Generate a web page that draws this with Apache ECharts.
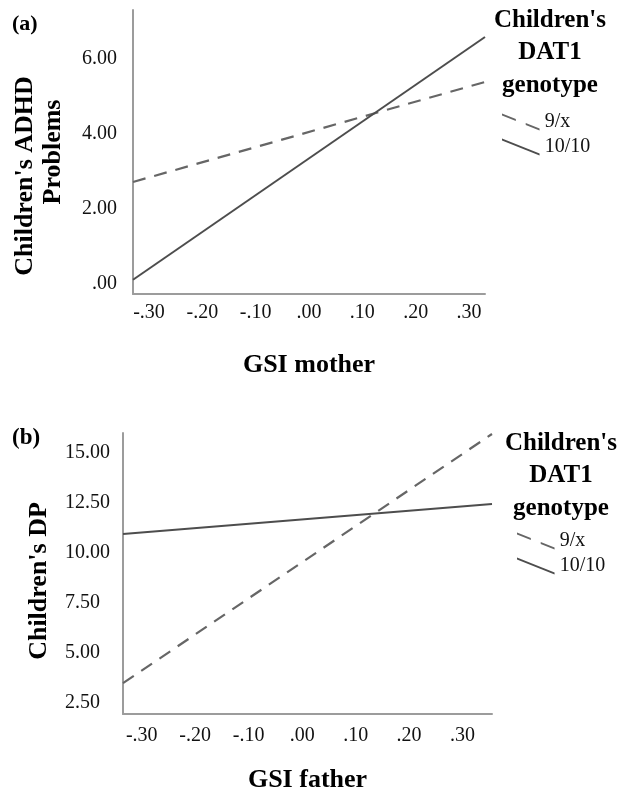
<!DOCTYPE html>
<html>
<head>
<meta charset="utf-8">
<script src="https://cdn.jsdelivr.net/npm/echarts@6/dist/echarts.min.js"></script>
<style>html,body{margin:0;padding:0;background:#fff}#c{width:624px;height:794px}</style>
</head>
<body>
<div id="c"></div>
<script>
// ---- data ----
const genotypes = ['9/x', '10/10'];
const xTicks = [-0.3, -0.2, -0.1, 0, 0.1, 0.2, 0.3];
const yTicksA = [0, 2, 4, 6];
const yTicksB = [2.5, 5, 7.5, 10, 12.5, 15];
// panel (a): GSI mother -> Children's ADHD Problems
const gsiMother = [-0.33, 0.33];
const adhd9x = [2.72, 5.39];
const adhd1010 = [0.11, 6.59];
// panel (b): GSI father -> Children's DP
const gsiFather = [-0.335, 0.355];
const dp9x = [3.49, 15.95];
const dp1010 = [10.95, 12.45];

const FONT = "'Liberation Serif', 'Times New Roman', serif";
const AXIS_COLOR = '#9c9c9c';
const fmt = v => v.toFixed(2).replace(/^(-?)0\./, '$1.');
const zip = (xs, ys) => xs.map((x, i) => [x, ys[i]]);

const dashIcon = 'path://M0,0L14,5.6L14,7.6L0,2Z M24,9.6L38,15.2L38,17.2L24,11.6Z';
const solidIcon = 'path://M0,0L38,15.2L38,17.2L0,2Z';

const chart = echarts.init(document.getElementById('c'), null, {renderer: 'canvas'});

function xAxisCfg(idx, name, min, max, margin, gap) {
  return {
    type: 'value', gridIndex: idx, min: min, max: max,
    name: name, nameLocation: 'middle', nameGap: gap,
    nameTextStyle: {fontFamily: FONT, fontSize: 26, fontWeight: 'bold', color: '#000', lineHeight: 26},
    axisLine: {show: true, onZero: false, lineStyle: {color: AXIS_COLOR, width: 2}},
    axisTick: {show: false},
    splitLine: {show: false},
    axisLabel: {customValues: xTicks, formatter: fmt, fontFamily: FONT, fontSize: 20, color: '#111', margin: margin}
  };
}

const option = {
  animation: false,
  backgroundColor: '#fff',
  title: [
    {text: '(a)', left: 12, top: 13, padding: 0, textStyle: {fontFamily: FONT, fontSize: 22, fontWeight: 'bold', color: '#000'}},
    {text: "Children's\nDAT1\ngenotype", left: 550, top: 4, padding: 0, textAlign: 'center',
     textStyle: {fontFamily: FONT, fontSize: 25, fontWeight: 'bold', color: '#000', lineHeight: 32.5}},
    {text: '(b)', left: 12, top: 427, padding: 0, textStyle: {fontFamily: FONT, fontSize: 23, fontWeight: 'bold', color: '#000'}},
    {text: "Children's\nDAT1\ngenotype", left: 561, top: 427, padding: 0, textAlign: 'center',
     textStyle: {fontFamily: FONT, fontSize: 25, fontWeight: 'bold', color: '#000', lineHeight: 32.5}}
  ],
  legend: [
    {orient: 'vertical', left: 502, top: 112, padding: 0, itemGap: 5, itemWidth: 38, itemHeight: 17,
     data: [{name: genotypes[0], icon: dashIcon}, {name: genotypes[1], icon: solidIcon}],
     itemStyle: {borderWidth: 0},
     textStyle: {fontFamily: FONT, fontSize: 20, color: '#111', lineHeight: 20}},
    {orient: 'vertical', left: 517, top: 531, padding: 0, itemGap: 5, itemWidth: 38, itemHeight: 17,
     data: [{name: genotypes[0], icon: dashIcon}, {name: genotypes[1], icon: solidIcon}],
     itemStyle: {borderWidth: 0},
     textStyle: {fontFamily: FONT, fontSize: 20, color: '#111', lineHeight: 20}}
  ],
  grid: [
    {left: 133, top: 10, width: 352, height: 284},
    {left: 123, top: 433, width: 369, height: 283}
  ],
  xAxis: [
    xAxisCfg(0, 'GSI mother', gsiMother[0], gsiMother[1], 9, 58),
    xAxisCfg(1, 'GSI father', gsiFather[0], gsiFather[1], 12, 53)
  ],
  yAxis: [
    {type: 'value', gridIndex: 0, min: -0.27, max: 7.31,
     name: "{a|Children's ADHD}\n{b|Problems}", nameLocation: 'middle', nameRotate: 90, nameGap: 66,
     nameTextStyle: {fontFamily: FONT, fontSize: 26, fontWeight: 'bold', color: '#000', lineHeight: 28,
       rich: {
         a: {fontFamily: FONT, fontSize: 26, fontWeight: 'bold', color: '#000', lineHeight: 28, padding: [0, 48, 0, 0]},
         b: {fontFamily: FONT, fontSize: 26, fontWeight: 'bold', color: '#000', lineHeight: 28}
       }},
     axisLine: {show: true, onZero: false, lineStyle: {color: AXIS_COLOR, width: 2}},
     axisTick: {show: false}, splitLine: {show: false},
     axisLabel: {customValues: yTicksA, formatter: fmt, fontFamily: FONT, fontSize: 20, color: '#111', margin: 16}},
    {type: 'value', gridIndex: 1, min: 1.95, max: 16.0,
     name: "Children's DP", nameLocation: 'middle', nameRotate: 90, nameGap: 70,
     nameTextStyle: {fontFamily: FONT, fontSize: 26, fontWeight: 'bold', color: '#000', lineHeight: 28, padding: [0, 15, 0, 0]},
     axisLine: {show: true, onZero: false, lineStyle: {color: AXIS_COLOR, width: 2}},
     axisTick: {show: false}, splitLine: {show: false},
     axisLabel: {customValues: yTicksB, formatter: fmt, fontFamily: FONT, fontSize: 20, color: '#111', margin: 58, align: 'left'}}
  ],
  series: [
    {name: genotypes[0], type: 'line', xAxisIndex: 0, yAxisIndex: 0, data: zip(gsiMother, adhd9x), symbol: 'none',
     itemStyle: {color: '#666'}, lineStyle: {color: '#666', width: 2.2, type: [13, 9]}},
    {name: genotypes[1], type: 'line', xAxisIndex: 0, yAxisIndex: 0, data: zip(gsiMother, adhd1010), symbol: 'none',
     itemStyle: {color: '#4d4d4d'}, lineStyle: {color: '#4d4d4d', width: 2}},
    {name: genotypes[0], type: 'line', xAxisIndex: 1, yAxisIndex: 1, data: zip(gsiFather, dp9x), symbol: 'none',
     itemStyle: {color: '#666'}, lineStyle: {color: '#666', width: 2.2, type: [13, 9]}},
    {name: genotypes[1], type: 'line', xAxisIndex: 1, yAxisIndex: 1, data: zip(gsiFather, dp1010), symbol: 'none',
     itemStyle: {color: '#4d4d4d'}, lineStyle: {color: '#4d4d4d', width: 2}}
  ]
};
chart.setOption(option);
</script>
</body>
</html>
